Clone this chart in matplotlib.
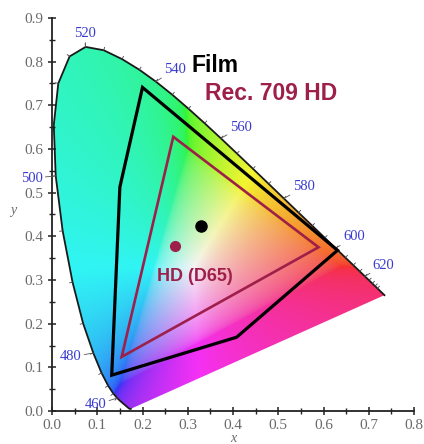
import numpy as np
import matplotlib
matplotlib.use("Agg")
import matplotlib.pyplot as plt
from matplotlib.patches import Polygon

# CIE 1931 2-degree spectral locus, 5 nm steps
wavelengths = np.arange(380, 705, 5)
locus_x = [0.1741, 0.1740, 0.1738, 0.1736, 0.1733, 0.1730, 0.1726, 0.1721, 0.1714,
           0.1703, 0.1689, 0.1669, 0.1644, 0.1611, 0.1566, 0.1510, 0.1440, 0.1355,
           0.1241, 0.1096, 0.0913, 0.0687, 0.0454, 0.0235, 0.0082, 0.0039, 0.0139,
           0.0389, 0.0743, 0.1142, 0.1547, 0.1929, 0.2296, 0.2658, 0.3016, 0.3373,
           0.3731, 0.4087, 0.4441, 0.4788, 0.5125, 0.5448, 0.5752, 0.6029, 0.6270,
           0.6482, 0.6658, 0.6801, 0.6915, 0.7006, 0.7079, 0.7140, 0.7190, 0.7230,
           0.7260, 0.7283, 0.7300, 0.7311, 0.7320, 0.7327, 0.7334, 0.7340, 0.7344,
           0.7346, 0.7347]
locus_y = [0.0050, 0.0050, 0.0049, 0.0049, 0.0048, 0.0048, 0.0048, 0.0048, 0.0051,
           0.0058, 0.0069, 0.0086, 0.0109, 0.0138, 0.0177, 0.0227, 0.0297, 0.0399,
           0.0578, 0.0868, 0.1327, 0.2007, 0.2950, 0.4127, 0.5384, 0.6548, 0.7502,
           0.8120, 0.8338, 0.8262, 0.8059, 0.7816, 0.7543, 0.7243, 0.6923, 0.6589,
           0.6245, 0.5896, 0.5547, 0.5202, 0.4866, 0.4544, 0.4242, 0.3965, 0.3725,
           0.3514, 0.3340, 0.3197, 0.3083, 0.2993, 0.2920, 0.2859, 0.2809, 0.2770,
           0.2740, 0.2717, 0.2700, 0.2689, 0.2680, 0.2673, 0.2666, 0.2660, 0.2656,
           0.2654, 0.2653]

# wavelength labels and where they sit
label_nm = [460, 480, 500, 520, 540, 560, 580, 600, 620]
label_x = [0.096, 0.041, -0.045, 0.072, 0.272, 0.417, 0.556, 0.667, 0.733]
label_y = [0.014, 0.124, 0.533, 0.865, 0.783, 0.650, 0.513, 0.400, 0.334]

# gamut outlines
film_x = [0.200, 0.150, 0.132, 0.408, 0.631]
film_y = [0.741, 0.513, 0.082, 0.169, 0.368]
hd_x = [0.268, 0.154, 0.589]
hd_y = [0.628, 0.124, 0.375]

# white points
film_white = (0.329, 0.423)
hd_white = (0.2715, 0.378)

maroon = "#9e1f4a"
label_blue = "#3a3ad0"
tick_gray = "#6a6a6a"


def chromaticity_image(nx=420, ny=460):
    xs = np.linspace(0, 0.8, nx)
    ys = np.linspace(0.0005, 0.9, ny)
    X, Y = np.meshgrid(xs, ys)
    Xc = X / Y
    Zc = (1 - X - Y) / Y
    xyz = np.stack([Xc, np.ones_like(Xc), Zc], axis=-1)
    m = np.array([[3.2406, -1.5372, -0.4986],
                  [-0.9689, 1.8758, 0.0415],
                  [0.0557, -0.2040, 1.0570]])
    rgb = xyz @ m.T
    low = rgb.min(axis=-1, keepdims=True)
    rgb = rgb - np.minimum(low, 0)
    rgb = rgb / rgb.max(axis=-1, keepdims=True)
    rgb = np.where(rgb <= 0.0031308, 12.92 * rgb,
                   1.055 * np.power(np.clip(rgb, 0, 1), 1 / 2.4) - 0.055)
    # the printed diagram is a little washed out
    rgb = 0.96 * (0.8 * rgb + 0.2)
    return np.clip(rgb, 0, 1)


fig = plt.figure(figsize=(4.24, 4.44), dpi=100)
ax = fig.add_axes([52 / 424, 1 - 411 / 444, 362 / 424, 393 / 444])

# coloured horseshoe
horseshoe = Polygon(np.column_stack([locus_x, locus_y]), closed=True,
                    facecolor="none", edgecolor="none")
ax.add_patch(horseshoe)
img = ax.imshow(chromaticity_image(), origin="lower", extent=[0, 0.8, 0, 0.9],
                aspect="auto", interpolation="bilinear", zorder=1)
img.set_clip_path(horseshoe)
ax.plot(locus_x, locus_y, color="#1a1a1a", lw=1.3, zorder=3)

# small ticks along the locus
ax.set_xlim(0, 0.8)
ax.set_ylim(0, 0.9)
pts = ax.transData.transform(np.column_stack([locus_x, locus_y]))
inv = ax.transData.inverted()
for i in range(1, len(wavelengths) - 1):
    if wavelengths[i] < 460 or wavelengths[i] > 640:
        continue
    d = pts[i + 1] - pts[i - 1]
    d = d / np.hypot(*d)
    n = np.array([-d[1], d[0]])
    seg = inv.transform([pts[i], pts[i] + 3 * n])
    ax.plot(seg[:, 0], seg[:, 1], color="#444444", lw=0.6, zorder=3)

# wavelength labels with leaders
for nm, lx, ly in zip(label_nm, label_x, label_y):
    k = list(wavelengths).index(nm)
    ax.annotate(str(nm), xy=(locus_x[k], locus_y[k]), xytext=(lx, ly),
                ha="center", va="center", fontsize=10.5, color=label_blue,
                family="Liberation Serif", annotation_clip=False,
                arrowprops=dict(arrowstyle="-", lw=0.6, color="#555555",
                                shrinkA=8, shrinkB=0), zorder=4)

# gamuts
ax.add_patch(Polygon(np.column_stack([film_x, film_y]), closed=True,
                     fill=False, edgecolor="black", lw=2.3, joinstyle="miter",
                     zorder=5))
ax.add_patch(Polygon(np.column_stack([hd_x, hd_y]), closed=True,
                     fill=False, edgecolor=maroon, lw=1.9, joinstyle="miter",
                     zorder=6))
ax.plot(*film_white, marker="o", ms=8, color="black", zorder=7)
ax.plot(*hd_white, marker="o", ms=7, color=maroon, zorder=7)

ax.text(0.309, 0.776, "Film", fontsize=16.5, fontweight="bold",
        family="Liberation Sans", color="black", zorder=8)
ax.text(0.338, 0.712, "Rec. 709 HD", fontsize=16.5, fontweight="bold",
        family="Liberation Sans", color=maroon, zorder=8)
ax.text(0.232, 0.309, "HD (D65)", fontsize=13, fontweight="bold",
        family="Liberation Sans", color=maroon, va="center", zorder=8)

# axes styling
for side in ["top", "right"]:
    ax.spines[side].set_visible(False)
for side in ["left", "bottom"]:
    ax.spines[side].set_linewidth(1.3)
    ax.spines[side].set_color("#222222")
ax.set_xticks(np.arange(0, 0.81, 0.1))
ax.set_yticks(np.arange(0, 0.91, 0.1))
ax.set_xticks(np.arange(0.05, 0.8, 0.1), minor=True)
ax.set_yticks(np.arange(0.05, 0.9, 0.1), minor=True)
ax.set_xticklabels([f"{v:.1f}" for v in np.arange(0, 0.81, 0.1)])
ax.set_yticklabels([f"{v:.1f}" for v in np.arange(0, 0.91, 0.1)])
ax.tick_params(which="major", direction="inout", length=6, width=1.1,
               color="#222222", labelcolor=tick_gray, labelsize=11, pad=3)
ax.tick_params(which="minor", direction="inout", length=4, width=1.0,
               color="#222222")
for lab in ax.get_xticklabels() + ax.get_yticklabels():
    lab.set_family("Liberation Serif")
ax.set_xlabel("x", family="Liberation Serif", style="italic", fontsize=10,
              color=tick_gray, labelpad=0)
ax.set_ylabel("y", family="Liberation Serif", style="italic", fontsize=10,
              color=tick_gray, rotation=0)
ax.yaxis.set_label_coords(-0.108, 0.494)

fig.savefig("out.png", dpi=100)
